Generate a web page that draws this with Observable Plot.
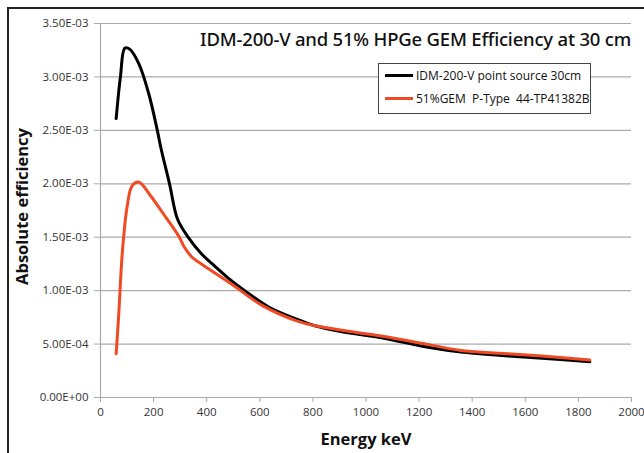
<!DOCTYPE html>
<html>
<head>
<meta charset="utf-8">
<script src="https://cdn.jsdelivr.net/npm/d3@7"></script>
<script src="https://cdn.jsdelivr.net/npm/@observablehq/plot@0.6"></script>
<style>
  body { margin: 0; background: #fff; }
  #wrap { position: relative; width: 644px; height: 453px; overflow: hidden; font-family: "Open Sans", sans-serif; }
  #frameL { position: absolute; left: 7px; top: 7px; width: 1.5px; height: 460px; background: #222; }
  #frameT { position: absolute; left: 7px; top: 7px; width: 640px; height: 1.5px; background: #222; }
  #title { position: absolute; right: 13px; top: 26px; font-family: "Noto Sans", sans-serif; font-weight: 500; font-size: 18.5px; color: #111; letter-spacing: -0.2px; white-space: nowrap; }
  #legend { position: absolute; left: 378px; top: 63px; width: 213px; height: 51px; border: 1px solid #444; background: #fff; box-sizing: border-box; font-family: "Open Sans", sans-serif; font-size: 12px; color: #111; }
  .li { position: absolute; left: 6px; display: flex; align-items: center; white-space: nowrap; }
  .sw { width: 28px; height: 3px; margin-right: 3px; }
</style>
</head>
<body>
<div id="wrap">
  <div id="chart"></div>
  <div id="frameL"></div>
  <div id="frameT"></div>
  <div id="title">IDM-200-V and 51% HPGe GEM Efficiency at 30 cm</div>
  <div id="legend">
    <div class="li" style="top:3px"><div class="sw" style="background:#000"></div>IDM-200-V point source 30cm</div>
    <div class="li" style="top:26px"><div class="sw" style="background:#f04a25"></div>51%GEM&nbsp; P-Type&nbsp; 44-TP41382B</div>
  </div>
</div>
<script>
const idmEnergy = [59, 75, 92, 110, 145, 182, 214, 228, 260, 290, 330, 380, 421, 480, 543, 635, 736, 804, 900, 1057, 1245, 1358, 1500, 1650, 1843];
const idmEff = [2.61e-3, 3.00e-3, 3.27e-3, 3.26e-3, 3.12e-3, 2.84e-3, 2.50e-3, 2.33e-3, 2.00e-3, 1.67e-3, 1.50e-3, 1.345e-3, 1.25e-3, 1.12e-3, 1.00e-3, 0.845e-3, 0.736e-3, 0.674e-3, 0.62e-3, 0.56e-3, 0.465e-3, 0.425e-3, 0.395e-3, 0.37e-3, 0.335e-3];
const gemEnergy = [59, 69, 82, 100, 119, 145, 185, 245, 297, 316, 346, 380, 492, 610, 736, 804, 1057, 1245, 1358, 1500, 1650, 1843];
const gemEff = [0.41e-3, 0.79e-3, 1.35e-3, 1.78e-3, 1.98e-3, 2.015e-3, 1.90e-3, 1.69e-3, 1.50e-3, 1.406e-3, 1.31e-3, 1.25e-3, 1.064e-3, 0.86e-3, 0.72e-3, 0.674e-3, 0.575e-3, 0.49e-3, 0.44e-3, 0.415e-3, 0.39e-3, 0.35e-3];
const xTicks = [0, 200, 400, 600, 800, 1000, 1200, 1400, 1600, 1800, 2000];
const yTicks = [0, 0.5e-3, 1.0e-3, 1.5e-3, 2.0e-3, 2.5e-3, 3.0e-3, 3.5e-3];

function sci(d) {
  if (d === 0) return "0.00E+00";
  const [m, e] = d.toExponential(2).split("e");
  const n = parseInt(e, 10);
  return m + "E" + (n < 0 ? "-" : "+") + String(Math.abs(n)).padStart(2, "0");
}

const idm = idmEnergy.map((x, i) => ({x, y: idmEff[i]}));
const gem = gemEnergy.map((x, i) => ({x, y: gemEff[i]}));

const chart = Plot.plot({
  width: 644,
  height: 453,
  marginLeft: 100,
  marginRight: 13,
  marginTop: 23,
  marginBottom: 56,
  style: {fontFamily: "Open Sans, sans-serif", fontSize: "11.5px", color: "#222", background: "transparent"},
  x: {domain: [0, 2000], ticks: xTicks, label: null, tickFormat: d3.format("d")},
  y: {domain: [0, 3.5e-3], ticks: yTicks, label: null, tickFormat: sci},
  marks: [
    Plot.gridY(yTicks, {stroke: "#aaa", strokeOpacity: 1, strokeWidth: 1.2}),
    Plot.ruleX([0], {stroke: "#aaa", strokeWidth: 1.2}),
    Plot.ruleY([0], {stroke: "#aaa", strokeWidth: 1.2}),
    Plot.axisX({ticks: xTicks, tickSize: 5, tickPadding: 5, stroke: "#aaa", fill: "#333", label: null, tickFormat: d3.format("d")}),
    Plot.axisY({ticks: yTicks, tickSize: 6, tickPadding: 6, stroke: "#aaa", fill: "#333", tickFormat: sci, label: null}),
    Plot.line(idm, {x: "x", y: "y", stroke: "#000", strokeWidth: 3, curve: "catmull-rom"}),
    Plot.line(gem, {x: "x", y: "y", stroke: "#f04a25", strokeWidth: 3, curve: "catmull-rom"}),
    Plot.text(["Energy keV"], {frameAnchor: "bottom", dy: 47, fontSize: 16.5, fontWeight: "bold", fill: "#111"}),
    Plot.text(["Absolute efficiency"], {frameAnchor: "left", textAnchor: "middle", dx: -78, dy: -4, rotate: -90, fontSize: 16.5, fontWeight: "bold", fill: "#111"})
  ]
});
document.getElementById("chart").appendChild(chart);
</script>
</body>
</html>
